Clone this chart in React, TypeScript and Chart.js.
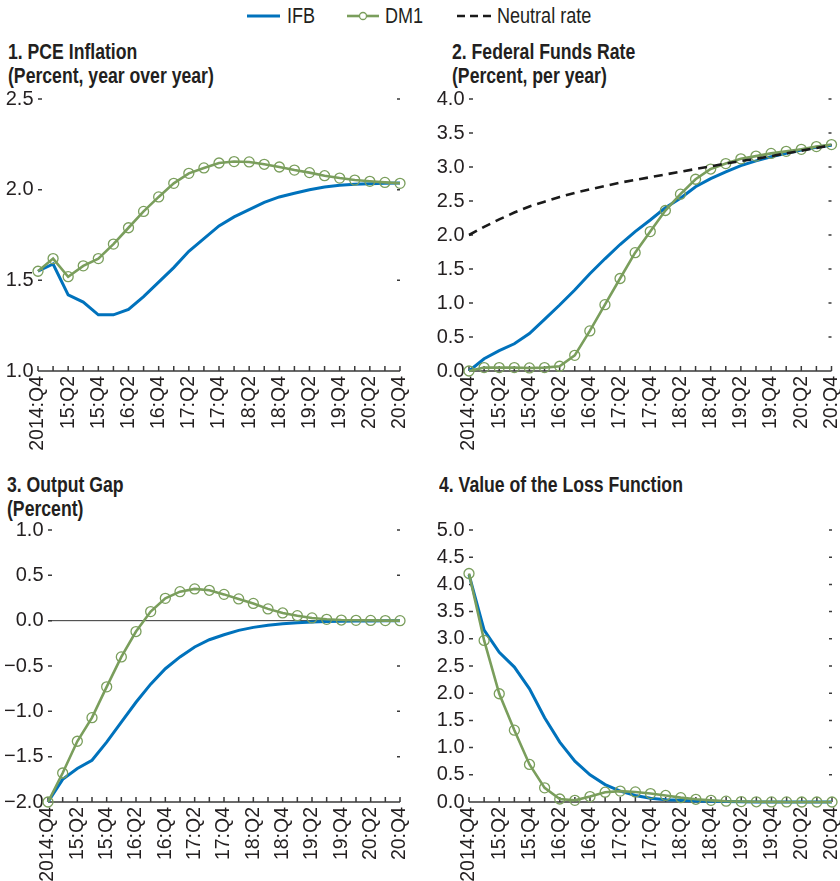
import React, { useEffect, useRef } from "react";
import { Chart, registerables } from "chart.js";

Chart.register(...registerables);

// ---------------- data ----------------
const quarters = [
  "2014:Q4", "15:Q1", "15:Q2", "15:Q3", "15:Q4", "16:Q1", "16:Q2", "16:Q3", "16:Q4",
  "17:Q1", "17:Q2", "17:Q3", "17:Q4", "18:Q1", "18:Q2", "18:Q3", "18:Q4",
  "19:Q1", "19:Q2", "19:Q3", "19:Q4", "20:Q1", "20:Q2", "20:Q3", "20:Q4",
];

const pceIFB = [1.55, 1.59, 1.42, 1.38, 1.31, 1.31, 1.34, 1.41, 1.49, 1.57, 1.66, 1.73, 1.8, 1.85, 1.89, 1.93, 1.96, 1.98, 2.0, 2.015, 2.024, 2.03, 2.033, 2.035, 2.037];
const pceDM1 = [1.55, 1.62, 1.52, 1.58, 1.62, 1.7, 1.79, 1.88, 1.96, 2.035, 2.09, 2.12, 2.147, 2.155, 2.153, 2.14, 2.125, 2.108, 2.094, 2.077, 2.064, 2.053, 2.046, 2.04, 2.035];

const ffrIFB = [0, 0.18, 0.3, 0.4, 0.55, 0.76, 0.97, 1.19, 1.43, 1.65, 1.86, 2.05, 2.22, 2.4, 2.54, 2.71, 2.83, 2.93, 3.02, 3.09, 3.15, 3.2, 3.25, 3.29, 3.32];
const ffrDM1 = [0, 0.05, 0.05, 0.05, 0.045, 0.05, 0.07, 0.23, 0.59, 0.975, 1.36, 1.74, 2.05, 2.36, 2.6, 2.82, 2.97, 3.05, 3.12, 3.16, 3.2, 3.23, 3.26, 3.3, 3.33];
const neutralRate = [2.0, 2.12, 2.23, 2.33, 2.42, 2.49, 2.56, 2.62, 2.67, 2.72, 2.77, 2.81, 2.85, 2.89, 2.93, 2.97, 3.01, 3.05, 3.09, 3.12, 3.16, 3.2, 3.24, 3.28, 3.32];

const gapIFB = [-2.0, -1.75, -1.63, -1.54, -1.34, -1.12, -0.9, -0.7, -0.53, -0.4, -0.29, -0.21, -0.155, -0.107, -0.074, -0.05, -0.035, -0.024, -0.016, -0.01, -0.007, -0.004, -0.003, -0.002, -0.001];
const gapDM1 = [-2.0, -1.68, -1.33, -1.07, -0.73, -0.4, -0.12, 0.1, 0.246, 0.32, 0.35, 0.335, 0.29, 0.24, 0.19, 0.13, 0.085, 0.055, 0.03, 0.015, 0.007, 0.004, 0.003, 0.001, 0.0];

const lossIFB = [4.18, 3.16, 2.75, 2.48, 2.08, 1.55, 1.1, 0.75, 0.5, 0.32, 0.2, 0.12, 0.07, 0.04, 0.03, 0.02, 0.012, 0.007, 0.004, 0.002, 0.001, 0, 0, 0, 0];
const lossDM1 = [4.2, 2.97, 1.99, 1.32, 0.69, 0.26, 0.055, 0.03, 0.1, 0.18, 0.2, 0.185, 0.155, 0.12, 0.08, 0.05, 0.03, 0.015, 0.008, 0.004, 0.002, 0.001, 0, 0, 0];

const seriesNames = ["IFB", "DM1", "Neutral rate"];
const panelTitles = [
  ["1. PCE Inflation", "(Percent, year over year)"],
  ["2. Federal Funds Rate", "(Percent, per year)"],
  ["3. Output Gap", "(Percent)"],
  ["4. Value of the Loss Function"],
];

// ---------------- styles ----------------
const BLUE = "#0072bc";
const GREEN = "#7a9e5c";
const DARK = "#231f20";
const TICK_FONT = '"Liberation Sans", Arial, sans-serif';
const HTML_FONT = '"Liberation Sans", Arial, sans-serif';
const NARROW = 0.82;

const axesPlugin = {
  id: "panelAxes",
  beforeDatasetsDraw(chart: any, _args: any, opts: any) {
    const { ctx, chartArea: a, scales } = chart;
    const x = scales.x;
    const y = scales.y;
    ctx.save();
    ctx.strokeStyle = "#3a3a3a";
    ctx.lineWidth = 1.5;
    ctx.beginPath();
    const yb = a.bottom;
    ctx.moveTo(a.left, yb);
    ctx.lineTo(a.right, yb);
    const n = chart.data.labels.length;
    for (let i = 0; i < n; i++) {
      const px = x.getPixelForValue(i);
      ctx.moveTo(px, yb);
      ctx.lineTo(px, yb - 5);
    }
    y.ticks.forEach((_t: any, i: number) => {
      const py = y.getPixelForTick(i);
      if (py >= yb - 1) return;
      ctx.moveTo(a.left, py);
      ctx.lineTo(a.left + 4, py);
      ctx.moveTo(a.right - 3, py);
      ctx.lineTo(a.right, py);
    });
    ctx.stroke();
    if (opts && opts.zeroLine) {
      const pz = y.getPixelForValue(0);
      ctx.lineWidth = 1;
      ctx.strokeStyle = "#333";
      ctx.beginPath();
      ctx.moveTo(a.left, pz);
      ctx.lineTo(a.right, pz);
      ctx.stroke();
    }
    ctx.restore();
  },
};

type PanelSpec = {
  left: number;
  top: number;
  width: number;
  height: number;
  area: [number, number, number, number];
  yMin: number;
  yMax: number;
  datasets: any[];
  zeroLine?: boolean;
};

const ifbSet = (data: number[]) => ({
  label: seriesNames[0],
  data,
  borderColor: BLUE,
  borderWidth: 3,
  pointRadius: 0,
  tension: 0,
  clip: false,
  order: 3,
});
const dm1Set = (data: number[]) => ({
  label: seriesNames[1],
  data,
  borderColor: GREEN,
  borderWidth: 2.6,
  pointRadius: 5,
  pointBorderWidth: 1.3,
  pointBorderColor: GREEN,
  pointBackgroundColor: "rgba(0,0,0,0)",
  tension: 0,
  clip: false,
  order: 2,
});
const neutralSet = (data: number[]) => ({
  label: seriesNames[2],
  data,
  borderColor: "#1a1a1a",
  borderWidth: 2.6,
  borderDash: [9, 6],
  pointRadius: 0,
  tension: 0,
  clip: false,
  order: 1,
});

const fmt = (v: number) => {
  const s = Math.abs(v).toFixed(1);
  return v < -1e-9 ? "\u2212" + s : s;
};

function Panel({ spec }: { spec: PanelSpec }) {
  const ref = useRef<HTMLCanvasElement | null>(null);
  useEffect(() => {
    if (!ref.current) return;
    const [aL, aT, aR, aB] = spec.area;
    const yWidth = aL - spec.left;
    const padRight = spec.left + spec.width - aR;
    const padTop = aT - spec.top;
    const xHeight = spec.top + spec.height - aB;
    const chart = new Chart(ref.current, {
      type: "line",
      data: { labels: quarters, datasets: spec.datasets },
      plugins: [axesPlugin],
      options: {
        responsive: false,
        animation: false,
        devicePixelRatio: 1,
        layout: { padding: { left: 0, right: padRight, top: padTop, bottom: 0 } },
        plugins: {
          legend: { display: false },
          title: { display: false },
          tooltip: { enabled: false },
          panelAxes: { zeroLine: !!spec.zeroLine },
        } as any,
        scales: {
          x: {
            type: "category",
            offset: false,
            grid: { display: false, drawTicks: false },
            border: { display: false },
            ticks: {
              autoSkip: false,
              maxRotation: 90,
              minRotation: 90,
              padding: 5,
              color: DARK,
              font: { family: TICK_FONT, size: 19.5 },
              callback: (_v: any, i: number) => (i % 2 === 0 ? quarters[i] : ""),
            },
            afterFit: (s: any) => {
              s.height = xHeight;
              s.paddingLeft = 0;
              s.paddingRight = 0;
            },
          },
          y: {
            min: spec.yMin,
            max: spec.yMax,
            grid: { display: false, drawTicks: false },
            border: { display: false },
            ticks: {
              stepSize: 0.5,
              autoSkip: false,
              padding: 4.5,
              color: DARK,
              font: { family: TICK_FONT, size: 20 },
              callback: (v: any) => fmt(Number(v)),
            },
            afterFit: (s: any) => {
              s.width = yWidth;
              s.paddingTop = 0;
              s.paddingBottom = 0;
            },
          },
        },
      } as any,
    });
    return () => chart.destroy();
  }, [spec]);
  return (
    <canvas
      ref={ref}
      width={spec.width}
      height={spec.height}
      style={{ position: "absolute", left: spec.left, top: spec.top, width: spec.width, height: spec.height }}
    />
  );
}

const panels: PanelSpec[] = [
  {
    left: 0, top: 88, width: 420, height: 372,
    area: [38, 99, 400, 371],
    yMin: 1.0, yMax: 2.5,
    datasets: [ifbSet(pceIFB), dm1Set(pceDM1)],
  },
  {
    left: 420, top: 88, width: 420, height: 372,
    area: [469, 99, 831.5, 371],
    yMin: 0, yMax: 4.0,
    datasets: [ifbSet(ffrIFB), dm1Set(ffrDM1), neutralSet(neutralRate)],
  },
  {
    left: 0, top: 515, width: 420, height: 366,
    area: [48, 530, 400, 802],
    yMin: -2.0, yMax: 1.0,
    datasets: [ifbSet(gapIFB), dm1Set(gapDM1)],
    zeroLine: true,
  },
  {
    left: 420, top: 515, width: 420, height: 366,
    area: [469, 530, 832, 802],
    yMin: 0, yMax: 5.0,
    datasets: [ifbSet(lossIFB), dm1Set(lossDM1)],
  },
];

const titlePos = [
  { left: 8, top: 40 },
  { left: 452, top: 40 },
  { left: 7, top: 473 },
  { left: 439, top: 473 },
];

const textBase: React.CSSProperties = {
  position: "absolute",
  fontFamily: HTML_FONT,
  color: DARK,
  whiteSpace: "nowrap",
  transform: `scaleX(${NARROW})`,
  transformOrigin: "0 50%",
};

export default function App() {
  return (
    <div style={{ position: "absolute", left: 0, top: 0, width: 840, height: 881, overflow: "hidden", background: "#fff" }}>
      {/* legend */}
      <svg style={{ position: "absolute", left: 0, top: 0 }} width={840} height={32}>
        <line x1={247} y1={16} x2={280} y2={16} stroke={BLUE} strokeWidth={3} />
        <line x1={347} y1={16} x2={379} y2={16} stroke={GREEN} strokeWidth={2.6} />
        <circle cx={363} cy={16} r={3.5} fill="#fff" stroke={GREEN} strokeWidth={1.3} />
        <line x1={457} y1={16} x2={493} y2={16} stroke="#1a1a1a" strokeWidth={2.6} strokeDasharray="8,5" />
      </svg>
      <div style={{ ...textBase, left: 287, top: 3, fontSize: 22, lineHeight: "26px" }}>{seriesNames[0]}</div>
      <div style={{ ...textBase, left: 385, top: 3, fontSize: 22, lineHeight: "26px" }}>{seriesNames[1]}</div>
      <div style={{ ...textBase, left: 497, top: 3, fontSize: 22, lineHeight: "26px" }}>{seriesNames[2]}</div>
      {panelTitles.map((lines, i) => (
        <div key={i} style={{ ...textBase, left: titlePos[i].left, top: titlePos[i].top, fontSize: 21.5, fontWeight: "bold", lineHeight: "24px" }}>
          {lines.map((l, j) => (
            <div key={j}>{l}</div>
          ))}
        </div>
      ))}
      {panels.map((p, i) => (
        <Panel key={i} spec={p} />
      ))}
    </div>
  );
}
